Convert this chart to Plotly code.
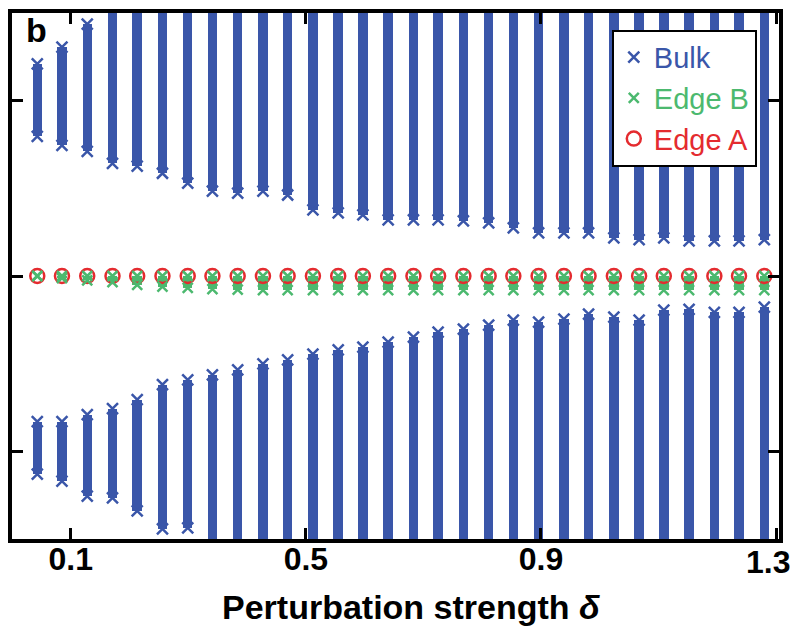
import plotly.graph_objects as go

# ---- data ----
delta = [0.043, 0.085, 0.128, 0.171, 0.213, 0.256, 0.299, 0.341, 0.384, 0.427,
         0.469, 0.512, 0.555, 0.597, 0.640, 0.683, 0.725, 0.768, 0.811, 0.853,
         0.896, 0.939, 0.981, 1.024, 1.067, 1.109, 1.152, 1.195, 1.237, 1.280]

# upper bulk band (gap side edge, outer edge)
upper_lo = [0.796, 0.745, 0.711, 0.643, 0.626, 0.586, 0.530, 0.484, 0.473, 0.484,
            0.462, 0.377, 0.360, 0.348, 0.320, 0.320, 0.320, 0.314, 0.303, 0.275,
            0.246, 0.246, 0.246, 0.218, 0.207, 0.218, 0.201, 0.201, 0.201, 0.207]
upper_hi = [1.210, 1.306, 1.436, 1.600, 1.600, 1.600, 1.600, 1.600, 1.600, 1.600,
            1.600, 1.600, 1.600, 1.600, 1.600, 1.600, 1.600, 1.600, 1.600, 1.600,
            1.600, 1.600, 1.600, 1.600, 1.600, 1.600, 1.600, 1.600, 1.600, 1.600]

# lower bulk band (gap side edge, outer edge)
lower_hi = [-0.830, -0.830, -0.790, -0.756, -0.705, -0.620, -0.592, -0.564, -0.535, -0.501,
            -0.479, -0.445, -0.422, -0.405, -0.377, -0.348, -0.320, -0.303, -0.280, -0.252,
            -0.263, -0.246, -0.218, -0.235, -0.252, -0.195, -0.190, -0.207, -0.207, -0.178]
lower_lo = [-1.130, -1.170, -1.255, -1.266, -1.340, -1.442, -1.436, -1.600, -1.600, -1.600,
            -1.600, -1.600, -1.600, -1.600, -1.600, -1.600, -1.600, -1.600, -1.600, -1.600,
            -1.600, -1.600, -1.600, -1.600, -1.600, -1.600, -1.600, -1.600, -1.600, -1.600]

# Edge B: spread from edgeB_hi down to edgeB_lo
edgeB_hi = [0.000, 0.000, 0.000, 0.000, 0.000, 0.000, 0.000, 0.000, 0.000, 0.000,
            0.000, 0.000, 0.000, 0.000, 0.000, 0.000, 0.000, 0.000, 0.000, 0.000,
            0.000, 0.000, 0.000, 0.000, 0.000, 0.000, 0.000, 0.000, 0.000, 0.000]
edgeB_lo = [0.000, -0.012, -0.025, -0.035, -0.050, -0.060, -0.068, -0.075, -0.078, -0.080,
            -0.080, -0.080, -0.080, -0.080, -0.080, -0.080, -0.080, -0.080, -0.080, -0.080,
            -0.080, -0.080, -0.080, -0.080, -0.080, -0.080, -0.080, -0.080, -0.080, -0.080]

# Edge A: zero modes
edgeA = [0.0, 0.0, 0.0, 0.0, 0.0, 0.0, 0.0, 0.0, 0.0, 0.0,
         0.0, 0.0, 0.0, 0.0, 0.0, 0.0, 0.0, 0.0, 0.0, 0.0,
         0.0, 0.0, 0.0, 0.0, 0.0, 0.0, 0.0, 0.0, 0.0, 0.0]

xticks = [0.1, 0.5, 0.9, 1.3]
xtick_labels = ["0.1", "0.5", "0.9", "1.3"]
yticks = [-1, 0, 1]

BLUE = "#3a56a9"
GREEN = "#4cb96f"
RED = "#e42b2f"
YMIN, YMAX = -1.5, 1.5
BAR_W = 0.016
FONT = "Liberation Sans, Arial, sans-serif"

fig = go.Figure()

# bulk bands as bars
fig.add_trace(go.Bar(x=delta, y=[h - l for h, l in zip(upper_hi, upper_lo)], base=upper_lo,
                     width=BAR_W, marker=dict(color=BLUE, line=dict(width=0)),
                     showlegend=False, hoverinfo="skip"))
fig.add_trace(go.Bar(x=delta, y=[h - l for h, l in zip(lower_hi, lower_lo)], base=lower_lo,
                     width=BAR_W, marker=dict(color=BLUE, line=dict(width=0)),
                     showlegend=False, hoverinfo="skip"))

# bulk end markers (x)
ex, ey = [], []
for d, a, b, c, e in zip(delta, upper_lo, upper_hi, lower_hi, lower_lo):
    for v in (a, b, c, e):
        if YMIN < v < YMAX:
            ex.append(d)
            ey.append(v)
fig.add_trace(go.Scatter(x=ex, y=ey, mode="markers",
                         marker=dict(symbol="x-thin", size=11, color=BLUE,
                                     line=dict(width=2.5, color=BLUE)),
                         name=f"<span style='color:{BLUE}'>Bulk</span>", legendrank=1,
                         cliponaxis=True, hoverinfo="skip"))

# Edge A circles
fig.add_trace(go.Scatter(x=delta, y=edgeA, mode="markers",
                         marker=dict(symbol="circle-open", size=14, color=RED,
                                     line=dict(width=2.5, color=RED)),
                         name=f"<span style='color:{RED}'>Edge A</span>", legendrank=3,
                         hoverinfo="skip"))

# Edge B spread
fig.add_trace(go.Bar(x=delta, y=[h - l for h, l in zip(edgeB_hi, edgeB_lo)], base=edgeB_lo,
                     width=BAR_W, marker=dict(color=GREEN, line=dict(width=0)),
                     showlegend=False, hoverinfo="skip"))
gx, gy = [], []
for d, h, l in zip(delta, edgeB_hi, edgeB_lo):
    gx += [d, d]
    gy += [h, l]
fig.add_trace(go.Scatter(x=gx, y=gy, mode="markers",
                         marker=dict(symbol="x-thin", size=10, color=GREEN,
                                     line=dict(width=2.5, color=GREEN)),
                         name=f"<span style='color:{GREEN}'>Edge B</span>", legendrank=2,
                         hoverinfo="skip"))

axis_common = dict(showline=True, linewidth=3.5, linecolor="black", mirror="ticks",
                   ticks="inside", ticklen=11, tickwidth=3, tickcolor="black",
                   showgrid=False, zeroline=False)

fig.update_layout(
    width=792, height=636,
    margin=dict(l=12, r=13, t=9, b=97),
    paper_bgcolor="white", plot_bgcolor="white",
    barmode="overlay", bargap=0,
    font=dict(family=FONT, color="black"),
    xaxis=dict(range=[0, 1.305], tickvals=xticks,
               ticktext=[f"<b>{t}</b>" for t in xtick_labels[:-1]] + [""],
               tickfont=dict(size=32, family=FONT),
               ticklabelstandoff=-11,
               **axis_common),
    yaxis=dict(range=[YMIN, YMAX], tickvals=yticks, showticklabels=False, **axis_common),
    legend=dict(x=0.782, y=0.968, xanchor="left", yanchor="top",
                bgcolor="white", bordercolor="black", borderwidth=2,
                font=dict(size=29, family=FONT),
                itemsizing="trace", tracegroupgap=0),
    annotations=[
        dict(text="<b>b</b>", xref="paper", yref="paper", x=0.016, y=1.0,
             xanchor="left", yanchor="top", yshift=4, showarrow=False,
             font=dict(size=34, color="black")),
        dict(text=f"<b>{xtick_labels[-1]}</b>", xref="x", yref="paper", x=xticks[-1],
             y=(539 - 562) / 530, xanchor="right", yanchor="middle", xshift=16,
             showarrow=False, font=dict(size=32, color="black", family=FONT)),
        dict(text="<b>Perturbation strength <i>δ</i></b>", xref="paper", yref="paper",
             x=(411 - 12) / 767, y=(539 - 608) / 530, xanchor="center", yanchor="middle",
             showarrow=False, font=dict(size=34, color="black", family=FONT)),
    ],
)

fig.write_html("out.html")
